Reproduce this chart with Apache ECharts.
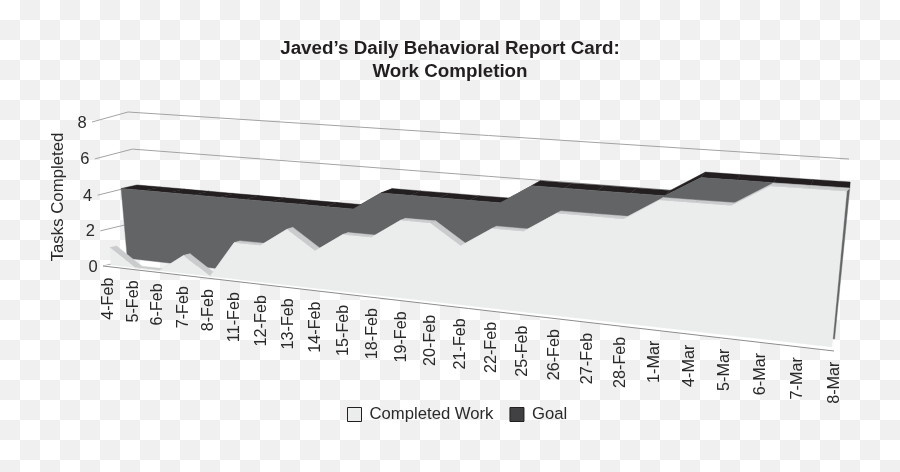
<!DOCTYPE html>
<html><head><meta charset="utf-8">
<style>
html,body{margin:0;padding:0;width:900px;height:472px;overflow:hidden;background-color:#fff;
background-image:repeating-conic-gradient(#f0f0f0 0 25%,#fff 0 50%);background-size:40px 40px;background-position:0 0}
#c{width:900px;height:472px}
</style>
<script src="https://cdn.jsdelivr.net/npm/echarts@6/dist/echarts.min.js"></script>
</head><body><div id="c"></div>
<script>
const categories=['4-Feb','5-Feb','6-Feb','7-Feb','8-Feb','11-Feb','12-Feb','13-Feb','14-Feb','15-Feb','18-Feb','19-Feb','20-Feb','21-Feb','22-Feb','25-Feb','26-Feb','27-Feb','28-Feb','1-Mar','4-Mar','5-Mar','6-Mar','7-Mar','8-Mar'];
const completedWork=[1,0,0,1,0,2,2,3,2,3,3,4,4,3,4,4,5,5,5,6,6,6,7,7,7];
const goal=[4,4,4,4,4,4,4,4,4,4,5,5,5,5,5,6,6,6,6,6,7,7,7,7,7];
const yTicks=[0,2,4,6,8];
const titleText="Javed\u2019s Daily Behavioral Report Card:\nWork Completion";
const yName='Tasks Completed';

function homography(p0,p1,p2,p3){
  const dx1=p1[0]-p2[0],dx2=p3[0]-p2[0],sx=p0[0]-p1[0]+p2[0]-p3[0];
  const dy1=p1[1]-p2[1],dy2=p3[1]-p2[1],sy=p0[1]-p1[1]+p2[1]-p3[1];
  const det=dx1*dy2-dx2*dy1;
  const g=(sx*dy2-dx2*sy)/det,h=(dx1*sy-sx*dy1)/det;
  const a=p1[0]-p0[0]+g*p1[0],b=p3[0]-p0[0]+h*p3[0],c=p0[0];
  const d=p1[1]-p0[1]+g*p1[1],e=p3[1]-p0[1]+h*p3[1],f=p0[1];
  return (u,v)=>{const w=g*u+h*v+1;return [(a*u+b*v+c)/w,(d*u+e*v+f)/w];};
}
// projected planes of the 3D box: (first cat,0) (last cat,0) (last cat,8) (first cat,8)
const planeAxis =homography([103,266],[834,351],[851,172],[92,122]);
const planeLabel=homography([109,267],[835,351],[852,172],[98,123]);
const planeLight=homography([111,265],[832,347],[849,168],[100,121]);
const planeLightB=homography([118,263.5],[835,344],[852,165],[107,119.5]);
const planeGoal =homography([127,255],[835,335],[852,166],[115,119.5]);
const planeGoalB=homography([141,252.5],[838,331],[852,160],[133,115.5]);
const planeWall =homography([145,256],[835,331],[849,159],[128,112]);

function uv(api,params,i,v){
  const c=api.coord([i,v]),s=params.coordSys;
  return [(c[0]-s.x)/s.width,(s.y+s.height-c[1])/s.height];
}
function poly(points,fill){
  return {type:'polygon',shape:{points},style:{fill,stroke:fill,lineWidth:0.4}};
}
function faceSeries(name,values,plane,fill,base){
  return {name,type:'custom',coordinateSystem:'cartesian2d',silent:true,z:name==='Goal'?4:6,
    data:values.map((v,i)=>[i,v]),
    itemStyle:{color:fill},
    renderItem(params,api){
      if(params.dataIndex!==0)return null;
      const pts=values.map((v,i)=>plane(...uv(api,params,i,v)));
      pts.push(plane(...uv(api,params,values.length-1,base)));
      pts.push(plane(...uv(api,params,0,base)));
      return poly(pts,fill);
    }};
}
function bandSeries(values,front,back,fill,z){
  return {type:'custom',coordinateSystem:'cartesian2d',silent:true,z,
    data:values.map((v,i)=>[i,v]),
    renderItem(params,api){
      const i=params.dataIndex;
      if(i>=values.length-1)return null;
      const a=uv(api,params,i,values[i]),b=uv(api,params,i+1,values[i+1]);
      return poly([front(...a),front(...b),back(...b),back(...a)],fill);
    }};
}
const gridLines={type:'custom',coordinateSystem:'cartesian2d',silent:true,z:1,
  data:yTicks.map(v=>[0,v]),
  renderItem(params,api){
    const v=yTicks[params.dataIndex];
    const q=uv(api,params,0,v),r=uv(api,params,categories.length-1,v);
    const pts=[planeAxis(...q),planeWall(...q),planeWall(...r)];
    return {type:'polyline',shape:{points:pts},style:{fill:'none',stroke:'#a3a3a5',lineWidth:1}};
  }};
const yLabels={type:'custom',coordinateSystem:'cartesian2d',silent:true,z:8,
  data:yTicks.map(v=>[0,v]),
  renderItem(params,api){
    const v=yTicks[params.dataIndex];
    const p=planeAxis(...uv(api,params,0,v));
    return {type:'text',x:p[0]-10,y:p[1]+1,style:{text:String(v),fill:'#2b2a2b',font:'16.5px "Liberation Sans"',textAlign:'center',textVerticalAlign:'middle'}};
  }};
const floorStrip={type:'custom',coordinateSystem:'cartesian2d',silent:true,z:2,
  data:[[0,0]],
  renderItem(params,api){
    const a=uv(api,params,0,0),b=uv(api,params,categories.length-1,0);
    return poly([planeLight(...a),planeLight(...b),planeAxis(...b),planeAxis(...a)],'#ffffff');
  }};
const baseLine={type:'custom',coordinateSystem:'cartesian2d',silent:true,z:3,
  data:[[0,0]],
  renderItem(params,api){
    const a=uv(api,params,0,0),b=uv(api,params,categories.length-1,0);
    return {type:'line',shape:{x1:planeAxis(...a)[0],y1:planeAxis(...a)[1],x2:planeAxis(...b)[0],y2:planeAxis(...b)[1]},style:{stroke:'#8c8c8e',lineWidth:1}};
  }};
const xLabels={type:'custom',coordinateSystem:'cartesian2d',silent:true,z:8,
  data:categories.map((c,i)=>[i,0]),
  renderItem(params,api){
    const i=params.dataIndex;
    const p=planeLabel(...uv(api,params,i,0));
    return {type:'text',x:p[0],y:p[1]+10.5,rotation:Math.PI/2,style:{text:categories[i],fill:'#2b2a2b',font:'16.2px "Liberation Sans"',textAlign:'right',textVerticalAlign:'middle'}};
  }};

const chart=echarts.init(document.getElementById('c'),null,{renderer:'canvas'});
chart.setOption({
  animation:false,
  backgroundColor:'transparent',
  title:{text:titleText,left:445,top:33,textAlign:'center',textStyle:{fontFamily:'Liberation Sans',fontSize:18.8,fontWeight:'bold',color:'#231f20',lineHeight:22.5,align:'center'}},
  legend:{bottom:44,left:342,itemWidth:14,itemHeight:14,itemGap:16,selectedMode:false,
    textStyle:{fontFamily:'Liberation Sans',fontSize:16.7,color:'#2b2a2b',padding:[0,0,0,3]},
    data:[{name:'Completed Work',icon:'rect',itemStyle:{color:'#ebeded',borderColor:'#231f20',borderWidth:1}},
          {name:'Goal',icon:'rect',itemStyle:{color:'#414042',borderColor:'#231f20',borderWidth:1}}]},
  grid:{left:110,width:720,top:125,height:144},
  xAxis:{type:'category',data:categories,boundaryGap:false,show:false},
  yAxis:{type:'value',min:0,max:8,interval:2,name:yName,nameLocation:'middle',nameGap:43,nameRotate:90,
    nameTextStyle:{fontFamily:'Liberation Sans',fontSize:16.8,color:'#2b2a2b'},
    axisLine:{show:false},axisTick:{show:false},axisLabel:{show:false},splitLine:{show:false}},
  series:[gridLines,floorStrip,baseLine,
    bandSeries(goal,planeGoal,planeGoalB,'#231f20',3),
    faceSeries('Goal',goal,planeGoal,'#636466',-0.2),
    bandSeries(completedWork,planeLight,planeLightB,'#c9cbcc',5),
    faceSeries('Completed Work',completedWork,planeLight,'#ebeded',0),
    yLabels,xLabels]
});
</script></body></html>
